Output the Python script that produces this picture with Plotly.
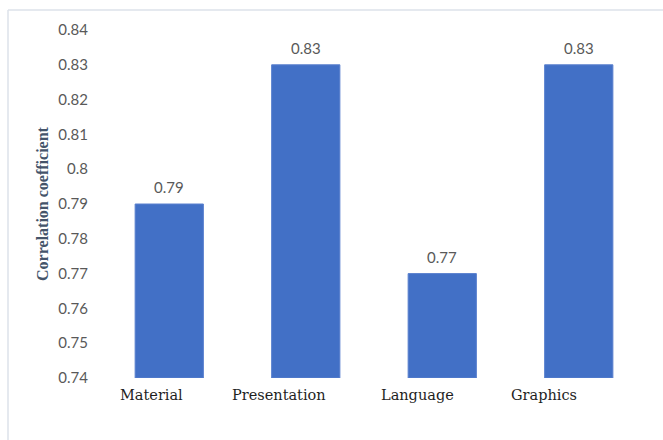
import plotly.graph_objects as go

categories = ["Material", "Presentation", "Language", "Graphics"]
values = [0.79, 0.83, 0.77, 0.83]
value_labels = ["0.79", "0.83", "0.77", "0.83"]
tick_vals = [0.74, 0.75, 0.76, 0.77, 0.78, 0.79, 0.80, 0.81, 0.82, 0.83, 0.84]
tick_text = ["0.74", "0.75", "0.76", "0.77", "0.78", "0.79", "0.8", "0.81", "0.82", "0.83", "0.84"]
label_shifts = [-18, -27, -25, -35]
axis_base = 0.74

W, H = 663, 440
L, R, T, B = 101, 16, 30, 62
pw, ph = W - L - R, H - T - B

fig = go.Figure()
fig.add_trace(go.Bar(
    x=categories, y=[v - axis_base for v in values],
    base=axis_base,
    marker=dict(color="#4270C6", line=dict(color="#5A80CE", width=1)),
))

for c, v, t in zip(categories, values, value_labels):
    fig.add_annotation(x=c, y=v, xref="x", yref="y", yanchor="bottom",
                       yshift=6, showarrow=False, text=t,
                       font=dict(family="Lato", size=15, color="#595959"))

for c, s in zip(categories, label_shifts):
    fig.add_annotation(x=c, y=0, xref="x", yref="paper", yanchor="top",
                       xshift=s, yshift=-7, showarrow=False, text=c,
                       font=dict(family="DejaVu Serif", size=14.5, color="#1F1F1F"))

# outer border (top and left lines)
bx = (8 - L) / pw
by = 1 + (T - 10) / ph
fig.add_shape(type="line", xref="paper", yref="paper", x0=bx, y0=by, x1=1.2, y1=by,
              line=dict(color="#DDE2EA", width=1.5))
fig.add_shape(type="line", xref="paper", yref="paper", x0=bx, y0=by, x1=bx, y1=-0.3,
              line=dict(color="#DDE2EA", width=1.5))

fig.update_layout(
    width=W, height=H,
    margin=dict(l=L, r=R, t=T, b=B, autoexpand=False),
    paper_bgcolor="white", plot_bgcolor="white",
    bargap=0.5, showlegend=False,
    xaxis=dict(showticklabels=False, showgrid=False, zeroline=False, showline=False),
    yaxis=dict(range=[0.74, 0.84], tickvals=tick_vals, ticktext=tick_text,
               showgrid=False, zeroline=False, showline=False,
               ticklabelstandoff=12,
               tickfont=dict(family="Lato", size=15, color="#595959"),
               title=dict(text="<b>Correlation coefficient</b>", standoff=5,
                          font=dict(family="Liberation Serif", size=16, color="#44546A"))),
)

fig.write_html("out.html")
